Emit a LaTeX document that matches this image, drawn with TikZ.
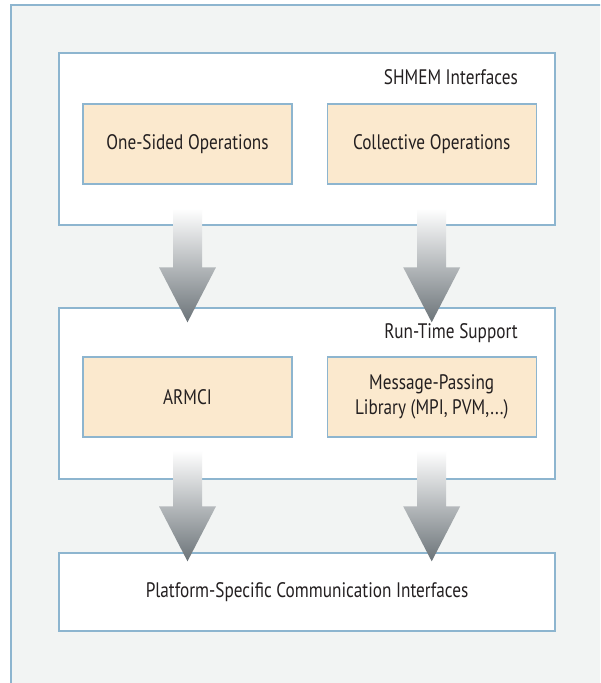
\documentclass[tikz,border=0pt]{standalone}
\usepackage{fontspec}
\setsansfont{PT Sans}[FakeStretch=0.82]
\usetikzlibrary{positioning, calc}
\definecolor{framebg}{HTML}{F2F4F3}
\definecolor{frameline}{HTML}{8DB5CF}
\definecolor{opfill}{HTML}{FBE9CE}
\definecolor{arrowmid}{HTML}{B2B7BC}
\definecolor{arrowdark}{HTML}{6C7479}
\definecolor{textdark}{HTML}{231F20}
\tikzset{
  layer/.style={rectangle, draw=frameline, line width=1.4pt, fill=white, text centered},
  op/.style={rectangle, draw=frameline, line width=1.2pt, fill=opfill, minimum width=209pt, minimum height=80pt, text centered, align=center},
  layerlabel/.style={anchor=east, inner sep=0pt},
  bigarrow/.style={top color=white, middle color=arrowmid, bottom color=arrowdark}
}

\begin{document}
\begin{tikzpicture}[
        x=1pt, y=-1pt,
        every node/.style={font=\fontsize{21}{25}\selectfont\sffamily, text=textdark}
    ]
        \clip (0,0) rectangle (600,683);
        % background panel
        \draw [draw=frameline, line width=2pt, fill=framebg] (11,5) rectangle (620,700);

        % layers
        \node (shmem) [layer, minimum width=496pt, minimum height=172pt] at (307,139) {};
        \node (runtime) [layer, minimum width=496pt, minimum height=171pt] at (307,393.5) {};
        \node (platform) [layer, minimum width=496pt, minimum height=78pt] at (307,592) {Platform-Specific Communication Interfaces};

        \node (shmemlabel) [layerlabel] at (518,77) {SHMEM Interfaces};
        \node (rtlabel) [layerlabel] at (518,333) {Run-Time Support};

        % components
        \node (onesided) [op] at (187.5,144) {One-Sided Operations};
        \node (collective) [op, right=34pt of onesided] {Collective Operations};
        \node (armci) [op] at (187.5,397) {ARMCI};
        \node (msgpass) [op, right=34pt of armci] {Message-Passing\\ Library (MPI, PVM,...)};

        % block arrows
        \foreach \src/\dst/\s/\t in {onesided/runtime/24/15, collective/runtime/24/15, armci/platform/13/9, msgpass/platform/13/9}
            \shade [bigarrow] let \p1=(\src.south), \p2=(\dst.north) in
                (\x1-14.5pt,\y1-\s*1pt) -- (\x1+14.5pt,\y1-\s*1pt) -- (\x1+14.5pt,\y2-\t*1pt+55pt)
                -- (\x1+28.5pt,\y2-\t*1pt+55pt) -- (\x1,\y2-\t*1pt) -- (\x1-28.5pt,\y2-\t*1pt+55pt)
                -- (\x1-14.5pt,\y2-\t*1pt+55pt) -- cycle;
    \end{tikzpicture}
\end{document}
